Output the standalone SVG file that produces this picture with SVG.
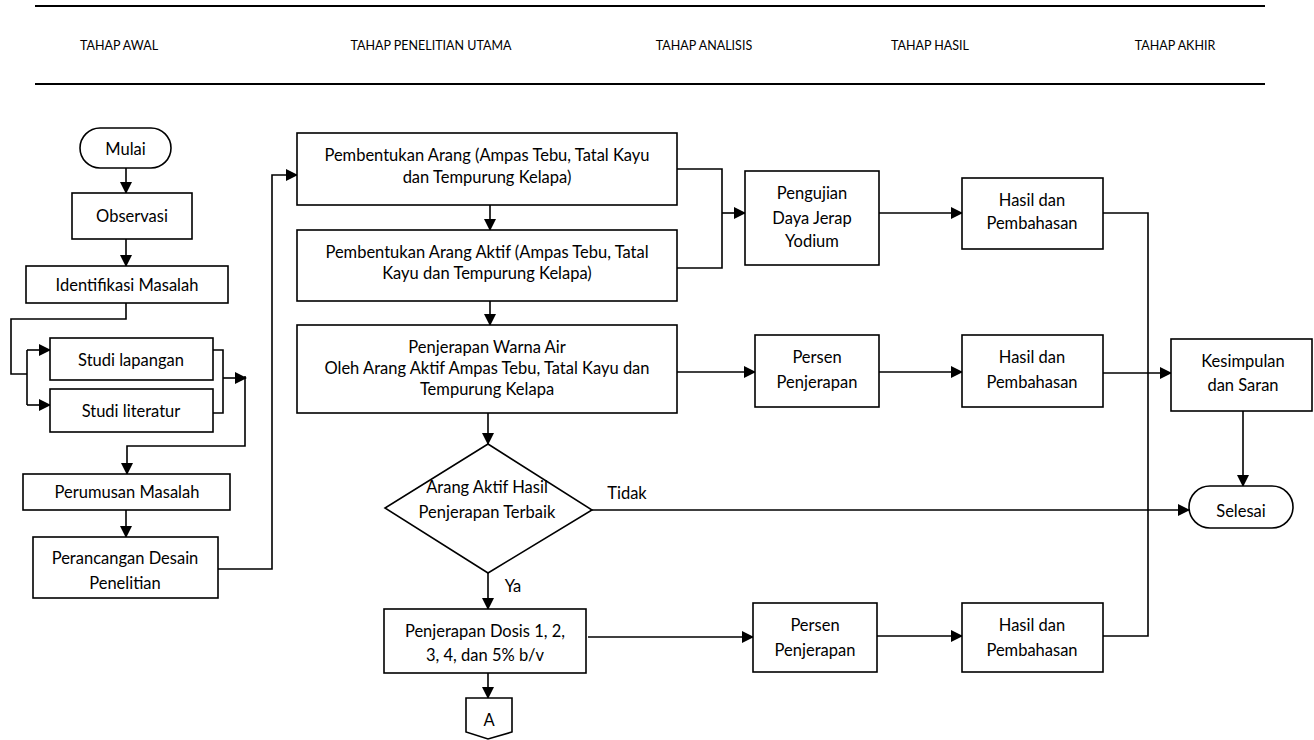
<svg xmlns="http://www.w3.org/2000/svg" width="1314" height="740" viewBox="0 0 1314 740">
<style>
.b{fill:#fff;stroke:#000;stroke-width:1.6}
.t{font-family:Lato,"Liberation Sans",sans-serif;font-size:16.5px;fill:#000;text-anchor:middle;dominant-baseline:central}
.h{font-family:Lato,"Liberation Sans",sans-serif;font-size:12.5px;fill:#000;text-anchor:middle;dominant-baseline:central}
.c{fill:none;stroke:#000;stroke-width:1.6}
.a{fill:none;stroke:#000;stroke-width:1.6;marker-end:url(#ar)}
</style>
<defs>
<marker id="ar" markerUnits="userSpaceOnUse" markerWidth="12" markerHeight="12" refX="11" refY="6" orient="auto">
<path d="M0,0 L12,6 L0,12 z" fill="#000"/>
</marker>
</defs>
<rect width="1314" height="740" fill="#fff"/>
<g id="header">
<line x1="35" y1="6" x2="1265" y2="6" stroke="#000" stroke-width="2"/>
<line x1="35" y1="84" x2="1265" y2="84" stroke="#000" stroke-width="2"/>
<text class="h" x="119" y="45">TAHAP AWAL</text>
<text class="h" x="431" y="45">TAHAP PENELITIAN UTAMA</text>
<text class="h" x="704" y="45">TAHAP ANALISIS</text>
<text class="h" x="930" y="45">TAHAP HASIL</text>
<text class="h" x="1175" y="45">TAHAP AKHIR</text>
</g>
<g id="connectors">
<line class="a" x1="126" y1="168" x2="126" y2="193"/>
<line class="a" x1="126" y1="239" x2="126" y2="266"/>
<polyline class="c" points="126,303 126,319 11,319 11,374 27,374"/>
<line class="c" x1="27" y1="350" x2="27" y2="405"/>
<line class="a" x1="27" y1="350" x2="50" y2="350"/>
<line class="a" x1="27" y1="405" x2="50" y2="405"/>
<polyline class="c" points="213,350 223,350 223,413 213,413"/>
<line class="a" x1="223" y1="378" x2="246" y2="378"/>
<polyline class="a" points="245,376 245,446 127,446 127,474"/>
<line class="a" x1="126" y1="510" x2="126" y2="537"/>
<polyline class="a" points="218,569 272,569 272,175 297,175"/>
<line class="a" x1="490" y1="205" x2="490" y2="230"/>
<line class="a" x1="490" y1="301" x2="490" y2="325"/>
<polyline class="c" points="677,169 722,169 722,268 677,268"/>
<line class="a" x1="722" y1="213" x2="745" y2="213"/>
<line class="a" x1="879" y1="213" x2="962" y2="213"/>
<polyline class="c" points="1103,213 1148,213 1148,636 1103,636"/>
<line class="a" x1="677" y1="372" x2="755" y2="372"/>
<line class="a" x1="879" y1="372" x2="962" y2="372"/>
<line class="a" x1="1103" y1="373" x2="1171" y2="373"/>
<line class="a" x1="1243" y1="411" x2="1243" y2="486"/>
<line class="a" x1="488" y1="413" x2="488" y2="444"/>
<line class="a" x1="592" y1="510" x2="1189" y2="510"/>
<text class="t" x="627" y="493">Tidak</text>
<line class="a" x1="488" y1="573" x2="488" y2="609"/>
<text class="t" x="513" y="586">Ya</text>
<line class="a" x1="588" y1="637" x2="753" y2="637"/>
<line class="a" x1="877" y1="636" x2="962" y2="636"/>
<line class="a" x1="488" y1="673" x2="488" y2="698"/>
</g>
<g id="mulai"><rect class="b" x="80" y="128" width="91" height="40" rx="20"/><text class="t" x="125.5" y="149">Mulai</text></g>
<g id="observasi"><rect class="b" x="72" y="193" width="120" height="46"/><text class="t" x="132" y="216">Observasi</text></g>
<g id="identifikasi"><rect class="b" x="26" y="266" width="202" height="37"/><text class="t" x="127" y="285">Identifikasi Masalah</text></g>
<g id="studi-lapangan"><rect class="b" x="50" y="338" width="163" height="42"/><text class="t" x="131" y="360">Studi lapangan</text></g>
<g id="studi-literatur"><rect class="b" x="50" y="389" width="163" height="43"/><text class="t" x="131" y="411">Studi literatur</text></g>
<g id="perumusan"><rect class="b" x="23" y="474" width="207" height="36"/><text class="t" x="127" y="492">Perumusan Masalah</text></g>
<g id="perancangan"><rect class="b" x="33" y="537" width="185" height="61"/><text class="t" x="125" y="558">Perancangan Desain</text><text class="t" x="125" y="583">Penelitian</text></g>
<g id="pembentukan-arang"><rect class="b" x="297" y="133" width="380" height="72"/><text class="t" x="487" y="155">Pembentukan Arang (Ampas Tebu, Tatal Kayu</text><text class="t" x="487" y="177">dan Tempurung Kelapa)</text></g>
<g id="pembentukan-arang-aktif"><rect class="b" x="297" y="230" width="380" height="71"/><text class="t" x="487" y="252">Pembentukan Arang Aktif (Ampas Tebu, Tatal</text><text class="t" x="487" y="273">Kayu dan Tempurung Kelapa)</text></g>
<g id="penjerapan-warna"><rect class="b" x="297" y="325" width="380" height="88"/><text class="t" x="487" y="347">Penjerapan Warna Air</text><text class="t" x="487" y="368">Oleh Arang Aktif Ampas Tebu, Tatal Kayu dan</text><text class="t" x="487" y="389">Tempurung Kelapa</text></g>
<g id="pengujian"><rect class="b" x="745" y="171" width="134" height="94"/><text class="t" x="812" y="193">Pengujian</text><text class="t" x="812" y="218">Daya Jerap</text><text class="t" x="812" y="241">Yodium</text></g>
<g id="hasil1"><rect class="b" x="962" y="178" width="141" height="71"/><text class="t" x="1032" y="200">Hasil dan</text><text class="t" x="1032" y="223">Pembahasan</text></g>
<g id="persen1"><rect class="b" x="755" y="335" width="124" height="72"/><text class="t" x="817" y="357">Persen</text><text class="t" x="817" y="382">Penjerapan</text></g>
<g id="hasil2"><rect class="b" x="962" y="335" width="141" height="72"/><text class="t" x="1032" y="357">Hasil dan</text><text class="t" x="1032" y="382">Pembahasan</text></g>
<g id="kesimpulan"><rect class="b" x="1171" y="339" width="141" height="72"/><text class="t" x="1243" y="361">Kesimpulan</text><text class="t" x="1243" y="385">dan Saran</text></g>
<g id="selesai"><rect class="b" x="1189" y="486" width="104" height="42" rx="21"/><text class="t" x="1241" y="511">Selesai</text></g>
<g id="keputusan"><polygon class="b" points="488,444 592,510 488,573 385,508"/><text class="t" x="487" y="487">Arang Aktif Hasil</text><text class="t" x="487" y="512">Penjerapan Terbaik</text></g>
<g id="dosis"><rect class="b" x="384" y="609" width="202" height="64"/><text class="t" x="485" y="631">Penjerapan Dosis 1, 2,</text><text class="t" x="485" y="655">3, 4, dan 5% b/v</text></g>
<g id="persen3"><rect class="b" x="753" y="603" width="124" height="69"/><text class="t" x="815" y="625">Persen</text><text class="t" x="815" y="650">Penjerapan</text></g>
<g id="hasil3"><rect class="b" x="962" y="603" width="141" height="69"/><text class="t" x="1032" y="625">Hasil dan</text><text class="t" x="1032" y="650">Pembahasan</text></g>
<g id="konektor-a"><polygon class="b" points="466,698 512,698 512,732 488,739 466,732"/><text class="t" x="489" y="720">A</text></g>
</svg>
